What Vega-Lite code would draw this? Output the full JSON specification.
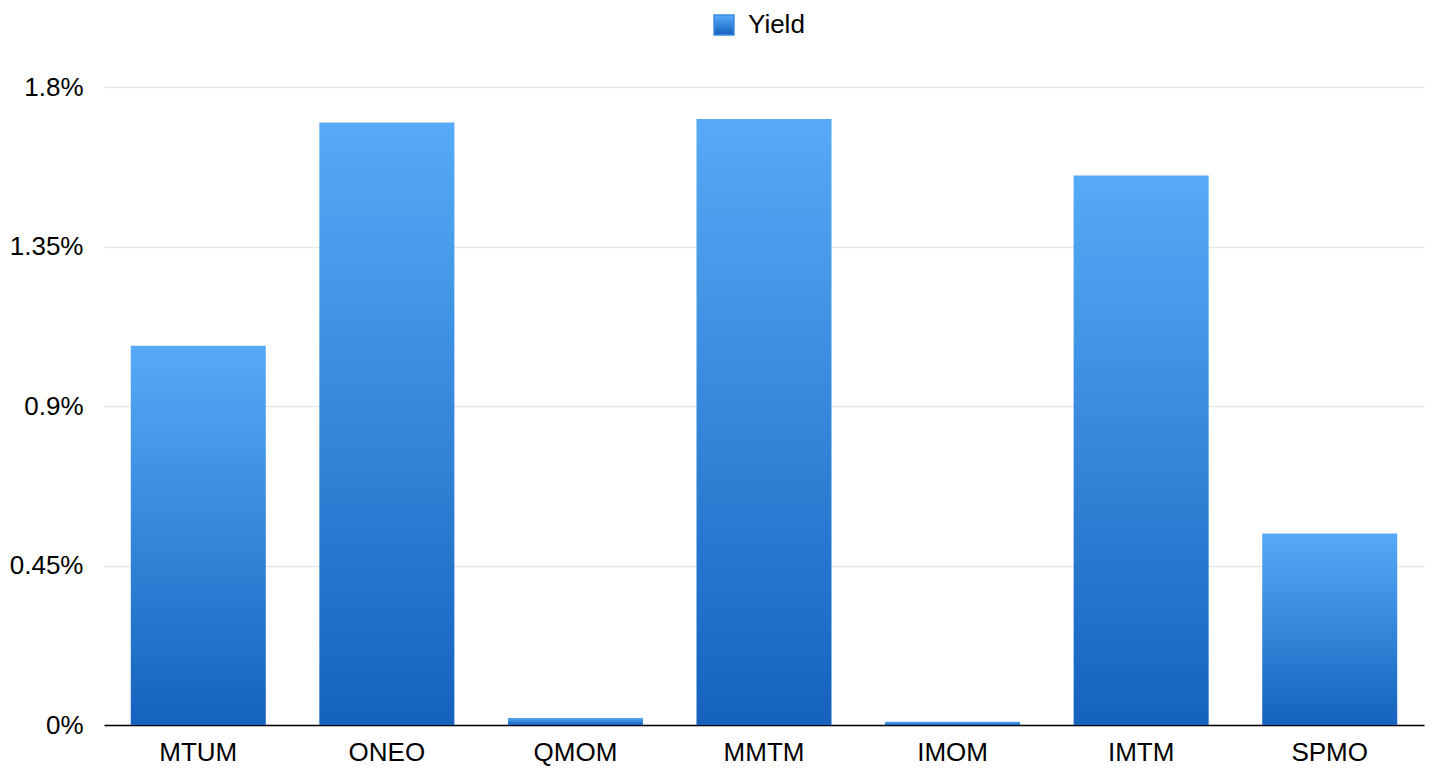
{
  "$schema": "https://vega.github.io/schema/vega-lite/v6.json",
  "width": 1320,
  "height": 638,
  "autosize": {"type": "none"},
  "padding": {"left": 104, "top": 87, "right": 12, "bottom": 54},
  "background": "#ffffff",
  "config": {
    "view": {"stroke": null},
    "font": "Liberation Sans"
  },
  "data": {
    "values": [
      {"fund": "MTUM", "yield": 1.07},
      {"fund": "ONEO", "yield": 1.70},
      {"fund": "QMOM", "yield": 0.02},
      {"fund": "MMTM", "yield": 1.71},
      {"fund": "IMOM", "yield": 0.009},
      {"fund": "IMTM", "yield": 1.55},
      {"fund": "SPMO", "yield": 0.54}
    ]
  },
  "mark": {
    "type": "bar",
    "fill": {
      "gradient": "linear", "x1": 0, "y1": 0, "x2": 0, "y2": 1,
      "stops": [
        {"offset": 0, "color": "#57aaf7"},
        {"offset": 1, "color": "#1462be"}
      ]
    },
    "strokeWidth": 0
  },
  "encoding": {
    "x": {
      "field": "fund",
      "type": "nominal",
      "sort": null,
      "title": null,
      "scale": {"paddingInner": 0.284, "paddingOuter": 0.142},
      "axis": {
        "labelAngle": 0,
        "labelFontSize": 26,
        "labelColor": "#000000",
        "labelPadding": 14,
        "ticks": false,
        "tickSize": 0,
        "domainColor": "#000000",
        "domainWidth": 1.6,
        "grid": false
      }
    },
    "y": {
      "field": "yield",
      "type": "quantitative",
      "title": null,
      "scale": {"domain": [0, 1.8], "nice": false, "zero": true},
      "axis": {
        "values": [0, 0.45, 0.9, 1.35, 1.8],
        "labelExpr": "datum.value + '%'",
        "labelFontSize": 26,
        "labelColor": "#000000",
        "labelPadding": 21,
        "ticks": false,
        "tickSize": 0,
        "domain": false,
        "grid": true,
        "gridColor": "#e6e6e6",
        "gridWidth": 1.5
      }
    },
    "stroke": {
      "datum": "Yield",
      "type": "nominal",
      "scale": {"range": ["#3b8de0"]},
      "legend": {
        "title": null,
        "orient": "none",
        "legendX": 607,
        "legendY": -75,
        "padding": 0,
        "symbolType": "square",
        "symbolSize": 400,
        "labelFontSize": 26,
        "labelColor": "#000000",
        "labelOffset": 11,
        "encode": {
          "symbols": {
            "update": {
              "fill": {"value": {
                "gradient": "linear", "x1": 0, "y1": 0, "x2": 0, "y2": 1,
                "stops": [
                  {"offset": 0, "color": "#57aaf7"},
                  {"offset": 1, "color": "#1462be"}
                ]
              }},
              "stroke": {"value": "transparent"},
              "strokeWidth": {"value": 0},
              "opacity": {"value": 1},
              "fillOpacity": {"value": 1}
            }
          }
        }
      }
    }
  }
}
